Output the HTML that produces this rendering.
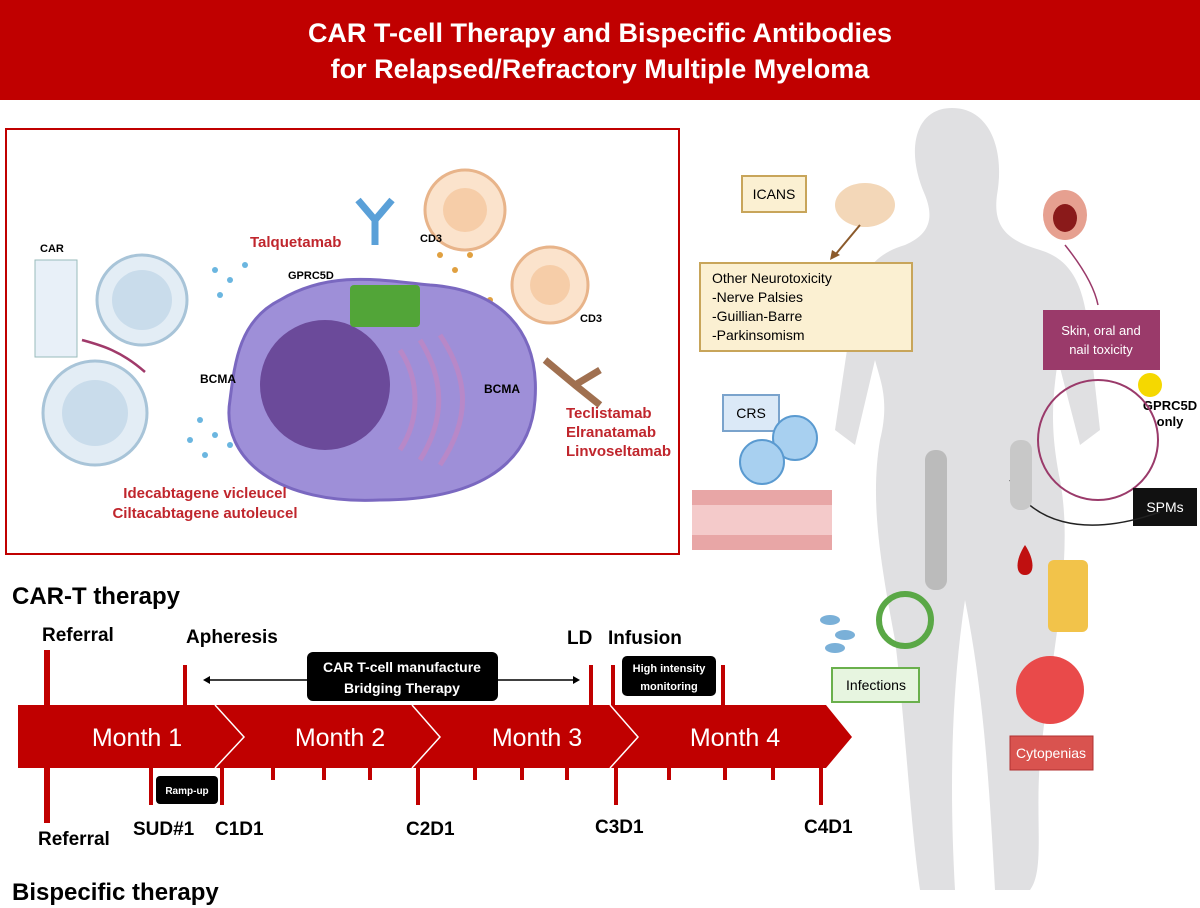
<!DOCTYPE html><html><head><style>body{margin:0;width:1200px;height:908px;overflow:hidden;background:#fff}svg{display:block}</style></head><body>
<svg width="1200" height="908" viewBox="0 0 1200 908" font-family="Liberation Sans, sans-serif">
<rect x="0" y="0" width="1200" height="100" fill="#c00000"/>
<text x="600" y="42" fill="#fff" font-size="27" font-weight="bold" text-anchor="middle">CAR T-cell Therapy and Bispecific Antibodies</text>
<text x="600" y="78" fill="#fff" font-size="27" font-weight="bold" text-anchor="middle">for Relapsed/Refractory Multiple Myeloma</text>
<!-- left box -->
<rect x="6" y="129" width="673" height="425" fill="#fff" stroke="#c00000" stroke-width="2"/>
<circle cx="142" cy="300" r="45" fill="#e3edf5" stroke="#a8c4d8" stroke-width="3"/><circle cx="142" cy="300" r="30" fill="#c9dceb"/>
<circle cx="95" cy="413" r="52" fill="#e3edf5" stroke="#a8c4d8" stroke-width="3"/><circle cx="95" cy="413" r="33" fill="#c9dceb"/>
<rect x="35" y="260" width="42" height="97" fill="#e8f0f8" stroke="#9bb" />
<text x="40" y="252" font-size="11" font-weight="bold">CAR</text>
<g fill="#6bb6e0"><circle cx="215" cy="270" r="3"/><circle cx="230" cy="280" r="3"/><circle cx="245" cy="265" r="3"/><circle cx="220" cy="295" r="3"/><circle cx="200" cy="420" r="3"/><circle cx="215" cy="435" r="3"/><circle cx="230" cy="445" r="3"/><circle cx="190" cy="440" r="3"/><circle cx="205" cy="455" r="3"/><circle cx="240" cy="425" r="3"/></g>
<g fill="#e0a040"><circle cx="440" cy="255" r="3"/><circle cx="455" cy="270" r="3"/><circle cx="470" cy="255" r="3"/><circle cx="490" cy="300" r="3"/><circle cx="505" cy="320" r="3"/><circle cx="480" cy="330" r="3"/><circle cx="520" cy="345" r="3"/><circle cx="500" cy="360" r="3"/></g>
<path d="M230 400 C220 460 280 505 380 500 C470 500 530 470 535 400 C540 330 500 290 430 285 C380 280 330 270 280 300 C240 320 235 360 230 400Z" fill="#9e8fd8" stroke="#7a68c0" stroke-width="3"/>
<circle cx="325" cy="385" r="65" fill="#6b4a9a"/>
<g stroke="#b888c8" stroke-width="5" fill="none"><path d="M400 350 C420 380 420 420 400 450"/><path d="M420 340 C445 380 445 420 420 460"/><path d="M440 335 C470 380 470 420 440 465"/></g>
<g fill="#52a538"><rect x="350" y="285" width="70" height="42" rx="4"/></g>
<g stroke="#5aa0d8" stroke-width="7" fill="none"><path d="M375 245 V220 L358 200 M375 220 L392 200"/></g>
<g stroke="#a07050" stroke-width="7" fill="none"><path d="M545 360 L575 385 L600 370 M575 385 L600 405"/></g>
<circle cx="465" cy="210" r="40" fill="#fbe3cc" stroke="#e8b48a" stroke-width="3"/><circle cx="465" cy="210" r="22" fill="#f6cda8"/>
<circle cx="550" cy="285" r="38" fill="#fbe3cc" stroke="#e8b48a" stroke-width="3"/><circle cx="550" cy="285" r="20" fill="#f6cda8"/>
<path d="M145 372 C120 350 100 345 82 340" fill="none" stroke="#a03a6a" stroke-width="2.5"/>
<text x="250" y="247" font-size="15" font-weight="bold" fill="#c0262d">Talquetamab</text>
<text x="288" y="279" font-size="11" font-weight="bold">GPRC5D</text>
<text x="420" y="242" font-size="11" font-weight="bold">CD3</text>
<text x="580" y="322" font-size="11" font-weight="bold">CD3</text>
<text x="200" y="383" font-size="12" font-weight="bold">BCMA</text>
<text x="484" y="393" font-size="12" font-weight="bold">BCMA</text>
<text x="566" y="418" font-size="15" font-weight="bold" fill="#c0262d">Teclistamab</text>
<text x="566" y="437" font-size="15" font-weight="bold" fill="#c0262d">Elranatamab</text>
<text x="566" y="456" font-size="15" font-weight="bold" fill="#c0262d">Linvoseltamab</text>
<text x="205" y="498" font-size="15" font-weight="bold" fill="#c0262d" text-anchor="middle">Idecabtagene vicleucel</text>
<text x="205" y="518" font-size="15" font-weight="bold" fill="#c0262d" text-anchor="middle">Ciltacabtagene autoleucel</text>
<!-- body -->
<path d="M952 108 C990 108 1005 150 997 195 C993 225 1005 240 1040 250 C1080 262 1085 300 1090 340 L1100 430 L1080 445 L1058 360 C1052 400 1050 430 1060 480 C1075 560 1050 660 1040 760 C1035 820 1045 870 1030 890 L995 890 C990 800 985 700 965 600 C950 700 950 800 955 890 L920 890 C910 820 905 720 895 640 C880 560 870 500 880 440 C890 400 880 380 875 360 L855 445 L835 430 L850 330 C855 280 870 255 905 245 C928 235 935 220 925 195 C905 150 915 108 952 108Z" fill="#e0e0e2"/>
<rect x="742" y="176" width="64" height="36" fill="#fbf0d2" stroke="#c8a55a" stroke-width="2"/><text x="774" y="199" font-size="14" text-anchor="middle">ICANS</text>
<ellipse cx="865" cy="205" rx="30" ry="22" fill="#f3d7b8"/>
<path d="M860 225 L835 255" stroke="#8b5a2b" stroke-width="2"/><path d="M830 260 l2 -10 l8 5z" fill="#8b5a2b"/>
<ellipse cx="1065" cy="215" rx="22" ry="25" fill="#e6a090"/><ellipse cx="1065" cy="218" rx="12" ry="14" fill="#8a1a1a"/>
<path d="M1065 245 C1085 270 1095 290 1098 305" fill="none" stroke="#9a3a6a" stroke-width="1.5"/>
<rect x="700" y="263" width="212" height="88" fill="#fbf0d2" stroke="#c8a55a" stroke-width="2"/>
<text x="712" y="283" font-size="14">Other Neurotoxicity</text><text x="712" y="302" font-size="14">-Nerve Palsies</text><text x="712" y="321" font-size="14">-Guillian-Barre</text><text x="712" y="340" font-size="14">-Parkinsomism</text>
<rect x="1043" y="310" width="117" height="60" fill="#9a3a6a"/>
<text x="1101" y="335" font-size="13" fill="#fff" text-anchor="middle">Skin, oral and</text><text x="1101" y="354" font-size="13" fill="#fff" text-anchor="middle">nail toxicity</text>
<text x="1170" y="410" font-size="13" font-weight="bold" text-anchor="middle">GPRC5D</text><text x="1170" y="426" font-size="13" font-weight="bold" text-anchor="middle">only</text>
<circle cx="1150" cy="385" r="12" fill="#f5d800"/>
<circle cx="1098" cy="440" r="60" fill="none" stroke="#9a3a6a" stroke-width="2"/>
<rect x="723" y="395" width="56" height="36" fill="#dbe9f7" stroke="#7aa3cc" stroke-width="2"/><text x="751" y="418" font-size="14" text-anchor="middle">CRS</text>
<circle cx="795" cy="438" r="22" fill="#a8d0f0" stroke="#5a9ad0" stroke-width="2"/><circle cx="762" cy="462" r="22" fill="#a8d0f0" stroke="#5a9ad0" stroke-width="2"/>
<rect x="692" y="490" width="140" height="60" fill="#e8a6a6"/><rect x="692" y="505" width="140" height="30" fill="#f4caca"/>
<rect x="1133" y="488" width="64" height="38" fill="#111"/><text x="1165" y="512" font-size="14" fill="#fff" text-anchor="middle">SPMs</text>
<path d="M1010 480 C1030 520 1080 540 1160 512" fill="none" stroke="#222" stroke-width="1.5"/>
<rect x="925" y="450" width="22" height="140" rx="10" fill="#bbb"/><rect x="1010" y="440" width="22" height="70" rx="10" fill="#c8c8c8"/>
<rect x="832" y="668" width="87" height="34" fill="#e7f5e0" stroke="#6ab04c" stroke-width="2"/><text x="876" y="690" font-size="14" text-anchor="middle">Infections</text>
<circle cx="905" cy="620" r="26" fill="none" stroke="#5aa846" stroke-width="6"/>
<g fill="#7ab0d8"><ellipse cx="830" cy="620" rx="10" ry="5"/><ellipse cx="845" cy="635" rx="10" ry="5"/><ellipse cx="835" cy="648" rx="10" ry="5"/></g>
<path d="M1025 545 C1035 560 1035 575 1025 575 C1015 575 1015 560 1025 545Z" fill="#c01010"/>
<rect x="1048" y="560" width="40" height="72" rx="6" fill="#f2c34a"/>
<circle cx="1050" cy="690" r="34" fill="#e94a4a"/>
<rect x="1010" y="736" width="83" height="34" fill="#d9534f" stroke="#b03030"/><text x="1051" y="758" font-size="14" fill="#fff" text-anchor="middle">Cytopenias</text>
<!-- timeline -->
<text x="12" y="604" font-size="24" font-weight="bold">CAR-T therapy</text>
<text x="12" y="900" font-size="24" font-weight="bold">Bispecific therapy</text>
<g fill="#c00000">
<rect x="44" y="650" width="6" height="62"/><rect x="183" y="665" width="4" height="45"/><rect x="589" y="665" width="4" height="45"/><rect x="611" y="665" width="4" height="45"/><rect x="721" y="665" width="4" height="45"/>
<rect x="44" y="765" width="6" height="58"/>
<rect x="149" y="765" width="4" height="40"/><rect x="220" y="765" width="4" height="40"/><rect x="416" y="765" width="4" height="40"/><rect x="614" y="765" width="4" height="40"/><rect x="819" y="765" width="4" height="40"/>
<rect x="271" y="765" width="4" height="15"/><rect x="322" y="765" width="4" height="15"/><rect x="368" y="765" width="4" height="15"/><rect x="473" y="765" width="4" height="15"/><rect x="520" y="765" width="4" height="15"/><rect x="565" y="765" width="4" height="15"/><rect x="667" y="765" width="4" height="15"/><rect x="723" y="765" width="4" height="15"/><rect x="771" y="765" width="4" height="15"/>
<path d="M18 705 L826 705 L852 737 L826 768 L18 768Z"/>
</g>
<g stroke="#fff" stroke-width="1.5" fill="none"><path d="M215 705 L244 737 L215 768"/><path d="M412 705 L440 737 L412 768"/><path d="M610 705 L638 737 L610 768"/></g>
<g fill="#fff" font-size="25" text-anchor="middle"><text x="137" y="746">Month 1</text><text x="340" y="746">Month 2</text><text x="537" y="746">Month 3</text><text x="735" y="746">Month 4</text></g>
<g font-size="19" font-weight="bold"><text x="42" y="641">Referral</text><text x="186" y="643">Apheresis</text><text x="567" y="644">LD</text><text x="608" y="644">Infusion</text>
<text x="38" y="845">Referral</text><text x="133" y="835">SUD#1</text><text x="215" y="835">C1D1</text><text x="406" y="835">C2D1</text><text x="595" y="833">C3D1</text><text x="804" y="833">C4D1</text></g>
<line x1="205" y1="680" x2="577" y2="680" stroke="#000" stroke-width="1.5"/>
<path d="M203 680 l7 -4 v8z M580 680 l-7 -4 v8z"/>
<rect x="307" y="652" width="191" height="49" rx="6" fill="#000"/>
<text x="402" y="672" fill="#fff" font-size="14" font-weight="bold" text-anchor="middle">CAR T-cell manufacture</text><text x="402" y="693" fill="#fff" font-size="14" font-weight="bold" text-anchor="middle">Bridging Therapy</text>
<rect x="622" y="656" width="94" height="40" rx="5" fill="#000"/>
<text x="669" y="672" fill="#fff" font-size="11" font-weight="bold" text-anchor="middle">High intensity</text><text x="669" y="690" fill="#fff" font-size="11" font-weight="bold" text-anchor="middle">monitoring</text>
<rect x="156" y="776" width="62" height="28" rx="4" fill="#000"/><text x="187" y="794" fill="#fff" font-size="10" font-weight="bold" text-anchor="middle">Ramp-up</text>
</svg></body></html>
